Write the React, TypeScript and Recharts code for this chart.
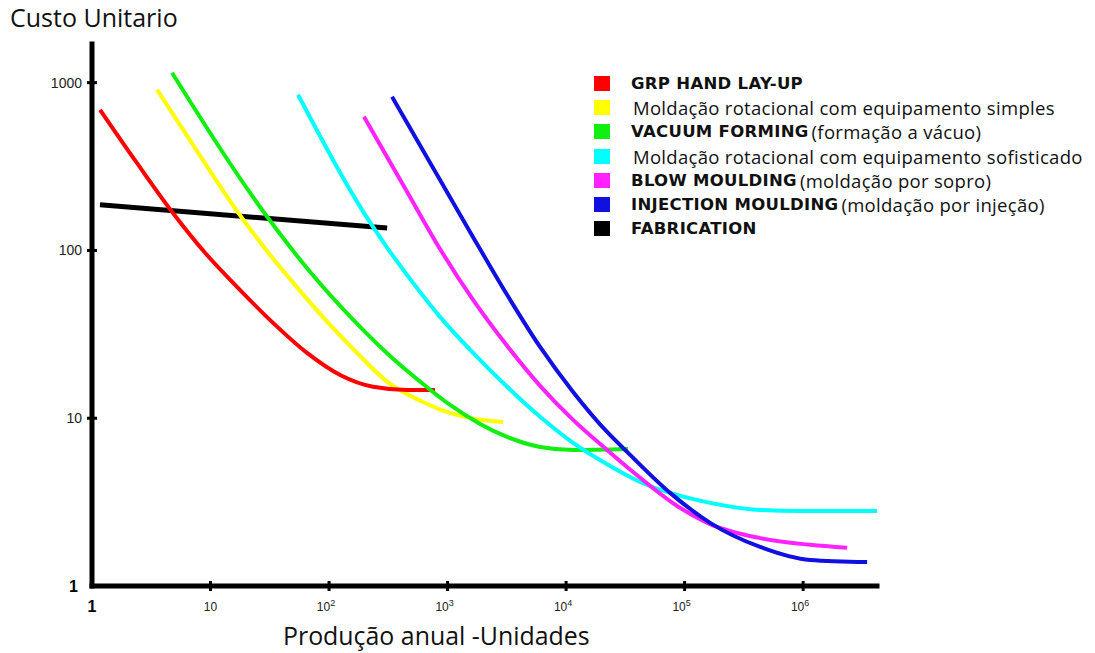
import { LineChart, Line, XAxis, YAxis } from 'recharts';

type Pt = [number, number];

// [unidades/ano, custo unitario]
const grpHandLayUp: Pt[] = [
  [1.168, 689], [2.35, 338], [4.73, 170], [8.99, 96.8], [17.7, 58.2], [33.7, 37.0], [65.2, 24.5],
  [124, 18.1], [235, 15.4], [455, 14.75], [784, 14.75],
];
const rotacionalSimples: Pt[] = [
  [3.54, 907], [8.15, 367], [17.1, 168], [31.8, 94.1], [56.9, 57.4], [102, 36.0], [172, 24.5],
  [327, 16.0], [621, 12.5], [1050, 10.75], [1707, 9.9], [2940, 9.5],
];
const vacuumForming: Pt[] = [
  [4.73, 1146], [30.6, 156], [69.1, 74.6], [176, 36.0], [327, 23.5], [621, 16.0],
  [1050, 12.0], [1881, 9.25], [3178, 7.74], [6034, 6.74], [11460, 6.47], [33370, 6.56],
];
const rotacionalSofisticado: Pt[] = [
  [54.7, 847], [235, 138], [309, 104], [482, 67.7], [864, 40.2], [1642, 24.5],
  [3178, 15.4], [6034, 10.2], [11460, 7.12], [23510, 5.19], [42120, 4.17], [86440, 3.49],
  [164100, 3.13], [433600, 2.84], [943000, 2.8], [4210000, 2.8],
];
const blowMoulding: Pt[] = [
  [197, 626], [455, 224], [864, 102], [1642, 50.7], [3178, 27.0], [6034, 15.6],
  [11460, 9.77], [22180, 6.47], [36770, 4.78], [86440, 3.0], [164100, 2.34],
  [433600, 1.93], [1146000, 1.76], [2351000, 1.69],
];
const injectionMoulding: Pt[] = [
  [340, 824], [712, 333], [1548, 129], [3178, 54.4], [6034, 26.6], [11460, 14.35],
  [22180, 8.28], [32720, 6.3], [75430, 3.59], [164100, 2.38], [433600, 1.71],
  [1146000, 1.43], [3468000, 1.39],
];
const fabrication: Pt[] = [
  [1.168, 187], [309, 136],
];

const xTicks = [1, 10, 100, 1000, 10000, 100000, 1000000];
const xTickExponents = ['', '', '2', '3', '4', '5', '6'];
const yTicks = [1, 10, 100, 1000];

interface Series {
  key: string;
  bold: string;
  rest: string;
  color: string;
  points: Pt[];
}

// legend order, top to bottom
const series: Series[] = [
  { key: 'grp', bold: 'GRP HAND LAY-UP', rest: '', color: '#ff0000', points: grpHandLayUp },
  { key: 'rotSimples', bold: '', rest: 'Moldação rotacional com equipamento simples', color: '#ffff00', points: rotacionalSimples },
  { key: 'vacuum', bold: 'VACUUM FORMING', rest: '(formação a vácuo)', color: '#11ee11', points: vacuumForming },
  { key: 'rotSofist', bold: '', rest: 'Moldação rotacional com equipamento sofisticado', color: '#00ffff', points: rotacionalSofisticado },
  { key: 'blow', bold: 'BLOW MOULDING', rest: ' (moldação por sopro)', color: '#ff22ff', points: blowMoulding },
  { key: 'injection', bold: 'INJECTION MOULDING', rest: '(moldação por injeção)', color: '#1010e0', points: injectionMoulding },
  { key: 'fabrication', bold: 'FABRICATION', rest: '', color: '#000000', points: fabrication },
];

const drawOrder = ['fabrication', 'rotSimples', 'grp', 'vacuum', 'rotSofist', 'blow', 'injection'];

const toRows = (pts: Pt[]) => pts.map(([x, y]) => ({ x, y }));

const bodyFont = '"Open Sans", sans-serif';
const boldFont = '"DejaVu Sans", sans-serif';

function XTick(props: any) {
  const { x, y, payload } = props;
  const i = xTicks.indexOf(payload.value);
  const axisY = y - 14;
  if (i === 0) {
    return (
      <text x={x} y={y + 12} textAnchor="middle" fontFamily="Liberation Sans" fontWeight="bold" fontSize={16} fill="#000">1</text>
    );
  }
  const exp = xTickExponents[i];
  return (
    <g>
      <line x1={x} y1={axisY - 5} x2={x} y2={axisY + 5} stroke="#000" strokeWidth={3} />
      <text x={x + (exp ? -3 : 0)} y={y + 11} textAnchor="middle" fontFamily="Liberation Sans" fontSize={12} fill="#222">
        10
        {exp && <tspan dy={-5} fontSize={9}>{exp}</tspan>}
      </text>
    </g>
  );
}

function YTick(props: any) {
  const { x, y, payload } = props;
  const axisX = x + 10;
  if (payload.value === 1) {
    return (
      <text x={x - 4} y={y + 6} textAnchor="end" fontFamily="Liberation Sans" fontWeight="bold" fontSize={16} fill="#000">1</text>
    );
  }
  return (
    <g>
      <line x1={axisX - 5} y1={y} x2={axisX + 5} y2={y} stroke="#000" strokeWidth={3} />
      <text x={x} y={y + 5} textAnchor="end" fontFamily="Liberation Sans" fontSize={14} fill="#222">{payload.value}</text>
    </g>
  );
}

function ChartLegend() {
  return (
    <div style={{ position: 'absolute', left: 594, top: 71 }}>
      {series.map((s) => (
        <div key={s.key} style={{ display: 'flex', alignItems: 'center', height: 24.3, whiteSpace: 'nowrap' }}>
          <span style={{ display: 'inline-block', width: 16, height: 15, background: s.color, marginRight: s.bold ? 21 : 23 }} />
          {s.bold && (
            <span style={{ fontFamily: boldFont, fontWeight: 'bold', fontSize: 16.5, letterSpacing: 0.3, color: '#111' }}>{s.bold}</span>
          )}
          {s.rest && (
            <span style={{ fontFamily: bodyFont, fontSize: 18.5, letterSpacing: 0.3, color: '#111', marginLeft: s.bold ? 3 : 0 }}>{s.rest}</span>
          )}
        </div>
      ))}
    </div>
  );
}

export default function App() {
  const ordered = drawOrder.map((k) => series.find((s) => s.key === k)!);
  return (
    <div style={{ position: 'absolute', left: 0, top: 0, width: 1095, height: 653, background: '#fff' }}>
      <LineChart width={1095} height={653} margin={{ top: 44, right: 218, bottom: 27, left: 32 }}>
        <XAxis
          type="number"
          dataKey="x"
          scale="log"
          domain={[1, 4200000]}
          ticks={xTicks}
          allowDataOverflow
          height={40}
          tickSize={0}
          tickMargin={14}
          tickLine={false}
          axisLine={{ stroke: '#000', strokeWidth: 5, strokeLinecap: 'square' }}
          tick={<XTick />}
        />
        <YAxis
          type="number"
          dataKey="y"
          scale="log"
          domain={[1, 1700]}
          ticks={yTicks}
          allowDataOverflow
          width={60}
          tickSize={0}
          tickMargin={10}
          tickLine={false}
          axisLine={{ stroke: '#000', strokeWidth: 5, strokeLinecap: 'square' }}
          tick={<YTick />}
        />
        {ordered.map((s) => (
          <Line
            key={s.key}
            data={toRows(s.points)}
            dataKey="y"
            type="monotone"
            stroke={s.color}
            strokeWidth={s.key === 'fabrication' ? 5 : 4}
            dot={false}
            activeDot={false}
            isAnimationActive={false}
          />
        ))}
      </LineChart>
      <div style={{ position: 'absolute', left: 10, top: 0, fontFamily: bodyFont, fontSize: 25, color: '#111' }}>
        Custo Unitario
      </div>
      <div style={{ position: 'absolute', left: 283, top: 618, fontFamily: bodyFont, fontSize: 24.9, color: '#111' }}>
        Produção anual -Unidades
      </div>
      <ChartLegend />
    </div>
  );
}
